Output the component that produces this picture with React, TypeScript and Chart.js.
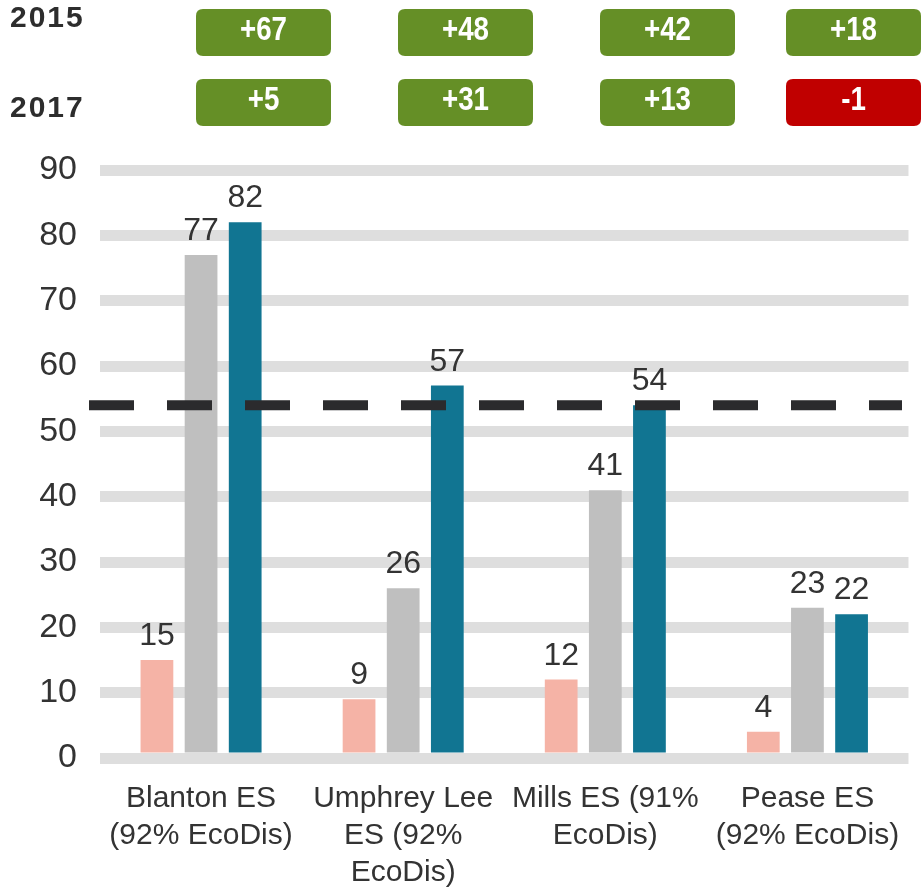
import React, { useEffect, useRef } from 'react';
import { Chart, registerables } from 'chart.js';

Chart.register(...registerables);

const categories: string[][] = [
  ['Blanton ES', '(92% EcoDis)'],
  ['Umphrey Lee', 'ES (92%', 'EcoDis)'],
  ['Mills ES (91%', 'EcoDis)'],
  ['Pease ES', '(92% EcoDis)'],
];
const seriesPink = [15, 9, 12, 4];
const seriesGray = [77, 26, 41, 23];
const seriesTeal = [82, 57, 54, 22];
const targetValue = 54;
const yMin = 0;
const yMax = 90;
const yStep = 10;
const rowLabels = ['2015', '2017'];
const change2015 = [67, 48, 42, 18];
const change2017 = [5, 31, 13, -1];

const FONT = '"Liberation Sans", Arial, sans-serif';

const fmtChange = (v: number) => (v > 0 ? '+' + v : String(v));

const dataLabelPlugin = {
  id: 'dataLabels',
  afterDatasetsDraw(chart: any) {
    const ctx = chart.ctx;
    ctx.save();
    ctx.font = `32px ${FONT}`;
    ctx.fillStyle = '#333333';
    ctx.textAlign = 'center';
    ctx.textBaseline = 'alphabetic';
    chart.data.datasets.forEach((ds: any, di: number) => {
      const meta = chart.getDatasetMeta(di);
      meta.data.forEach((el: any, i: number) => {
        ctx.fillText(String(ds.data[i]), el.x, el.y - 15);
      });
    });
    ctx.restore();
  },
};

const targetLinePlugin = {
  id: 'targetLine',
  afterDatasetsDraw(chart: any) {
    const ctx = chart.ctx;
    const y = chart.scales.y.getPixelForValue(targetValue);
    ctx.save();
    ctx.strokeStyle = '#2b2b2d';
    ctx.lineWidth = 10;
    ctx.lineCap = 'butt';
    ctx.setLineDash([45, 33]);
    ctx.beginPath();
    ctx.moveTo(89, y);
    ctx.lineTo(902, y);
    ctx.stroke();
    ctx.restore();
  },
};

const roundRect = (ctx: any, x: number, y: number, w: number, h: number, r: number) => {
  ctx.beginPath();
  ctx.moveTo(x + r, y);
  ctx.lineTo(x + w - r, y);
  ctx.quadraticCurveTo(x + w, y, x + w, y + r);
  ctx.lineTo(x + w, y + h - r);
  ctx.quadraticCurveTo(x + w, y + h, x + w - r, y + h);
  ctx.lineTo(x + r, y + h);
  ctx.quadraticCurveTo(x, y + h, x, y + h - r);
  ctx.lineTo(x, y + r);
  ctx.quadraticCurveTo(x, y, x + r, y);
  ctx.closePath();
};

const changeBoxesPlugin = {
  id: 'changeBoxes',
  afterDraw(chart: any) {
    const ctx = chart.ctx;
    const rows = [change2015, change2017];
    const rowTops = [9, 79];
    const rowBaselines = [27, 117];
    const boxLefts = [196, 398, 600, 786];
    const boxW = 135;
    const boxH = 47;
    ctx.save();
    ctx.font = `bold 30px ${FONT}`;
    ctx.fillStyle = '#2d2d2d';
    ctx.textAlign = 'left';
    ctx.textBaseline = 'alphabetic';
    try { (ctx as any).letterSpacing = '2px'; } catch (e) {}
    rowLabels.forEach((lbl, r) => ctx.fillText(lbl, 10, rowBaselines[r]));
    try { (ctx as any).letterSpacing = '0px'; } catch (e) {}
    rows.forEach((vals, r) => {
      vals.forEach((v, i) => {
        const x = boxLefts[i];
        const y = rowTops[r];
        ctx.fillStyle = v < 0 ? '#c00000' : '#658f26';
        roundRect(ctx, x, y, boxW, boxH, 7);
        ctx.fill();
        ctx.save();
        const cx = x + boxW / 2;
        ctx.translate(cx, y + 31);
        ctx.scale(0.84, 1);
        ctx.font = `bold 33px ${FONT}`;
        ctx.fillStyle = '#ffffff';
        ctx.textAlign = 'center';
        ctx.textBaseline = 'alphabetic';
        ctx.fillText(fmtChange(v), 0, 0);
        ctx.restore();
      });
    });
    ctx.restore();
  },
};

export default function App() {
  const ref = useRef<HTMLCanvasElement | null>(null);

  useEffect(() => {
    document.body.style.margin = '0';
    if (!ref.current) return;
    const chart = new Chart(ref.current, {
      type: 'bar',
      data: {
        labels: categories,
        datasets: [
          { label: 'A', data: seriesPink, backgroundColor: '#f5b3a6' },
          { label: 'B', data: seriesGray, backgroundColor: '#bfbfbf' },
          { label: 'C', data: seriesTeal, backgroundColor: '#117592' },
        ],
      },
      options: {
        responsive: false,
        animation: false,
        devicePixelRatio: 1,
        layout: { padding: { top: 170, right: 7, left: 0, bottom: 0 } },
        datasets: {
          bar: { categoryPercentage: 0.655, barPercentage: 0.742 },
        },
        plugins: {
          legend: { display: false },
          tooltip: { enabled: false },
        },
        scales: {
          x: {
            grid: { display: false, drawTicks: false },
            border: { display: false },
            ticks: {
              autoSkip: false,
              maxRotation: 0,
              minRotation: 0,
              padding: 22,
              color: '#333333',
              font: { family: FONT, size: 30, lineHeight: 1.23 },
            },
            afterFit: (s: any) => {
              s.height = 134;
            },
          },
          y: {
            min: yMin,
            max: yMax,
            grid: { color: '#dedede', lineWidth: 11, drawTicks: false },
            border: { display: false },
            ticks: {
              stepSize: yStep,
              padding: 23,
              color: '#333333',
              font: { family: FONT, size: 34 },
            },
            afterFit: (s: any) => {
              s.width = 100;
            },
          },
        },
      },
      plugins: [dataLabelPlugin, targetLinePlugin, changeBoxesPlugin],
    } as any);
    return () => chart.destroy();
  }, []);

  return (
    <div style={{ width: 922, height: 892, position: 'relative' }}>
      <canvas ref={ref} width={922} height={892} style={{ display: 'block' }} />
    </div>
  );
}
